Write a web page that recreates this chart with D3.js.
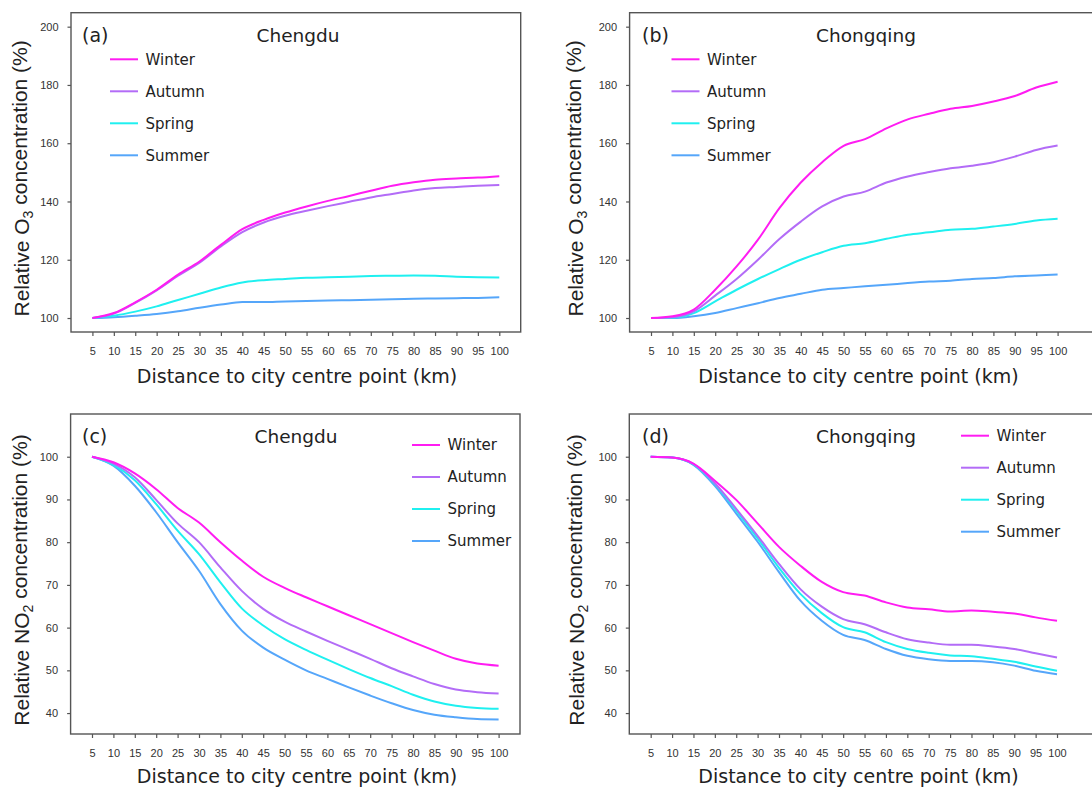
<!DOCTYPE html>
<html>
<head>
<meta charset="utf-8">
<script src="https://cdn.jsdelivr.net/npm/d3@7"></script>
<style>
  html, body { margin: 0; padding: 0; background: #fff; }
  svg { display: block; }
</style>
</head>
<body>
<svg id="chart" width="1092" height="788"></svg>
<script>
// ---------------- DATA ----------------
const distances = [5,10,15,20,25,30,35,40,45,50,55,60,65,70,75,80,85,90,95,100];
const seasons = ["Winter", "Autumn", "Spring", "Summer"];
const seasonColors = ["#ff1cf2", "#b36cf7", "#1ff0f0", "#55a6fa"];

const o3YTicks = [100, 120, 140, 160, 180, 200];
const no2YTicks = [40, 50, 60, 70, 80, 90, 100];

// (a) Chengdu O3
const o3ChengduWinter = [100,101.7,105.4,109.7,114.9,119.4,125.1,130.5,133.7,136.2,138.3,140.2,141.9,143.7,145.4,146.6,147.5,147.9,148.2,148.7];
const o3ChengduAutumn = [100,101.5,105.2,109.5,114.5,119.0,124.6,129.5,132.8,135.1,136.8,138.4,139.9,141.4,142.6,143.8,144.6,145.0,145.4,145.7];
const o3ChengduSpring = [100,100.8,102.2,104.0,106.2,108.3,110.5,112.2,113.0,113.4,113.8,114.0,114.2,114.4,114.5,114.6,114.5,114.2,114.0,113.9];
const o3ChengduSummer = [100,100.3,100.8,101.4,102.3,103.5,104.6,105.5,105.5,105.7,105.8,106.0,106.1,106.3,106.4,106.6,106.7,106.8,106.9,107.1];

// (b) Chongqing O3
const o3ChongqingWinter = [100,100.6,102.9,109.7,117.7,126.9,137.7,146.5,153.5,159.1,161.4,165.1,168.2,170.1,171.8,172.8,174.3,176.2,179.1,181.1];
const o3ChongqingAutumn = [100,100.3,102.3,107.7,113.4,120.0,127.1,133.1,138.3,141.7,143.4,146.5,148.6,150.1,151.4,152.3,153.5,155.4,157.7,159.2];
const o3ChongqingSpring = [100,100.1,101.7,105.7,109.7,113.4,116.8,120.0,122.6,124.8,125.7,127.2,128.6,129.4,130.3,130.6,131.4,132.3,133.5,134.1];
const o3ChongqingSummer = [100,100.0,100.6,101.7,103.4,105.1,106.9,108.3,109.7,110.3,110.9,111.4,112.0,112.5,112.8,113.4,113.7,114.3,114.6,114.9];

// (c) Chengdu NO2
const no2ChengduWinter = [100,98.7,96.1,92.4,88.0,84.6,80.0,75.7,71.9,69.3,67.1,65.0,62.9,60.8,58.7,56.6,54.6,52.7,51.6,51.1];
const no2ChengduAutumn = [100,98.4,95.2,89.9,84.4,80.0,74.1,68.6,64.4,61.4,59.1,56.9,54.8,52.7,50.5,48.6,46.8,45.5,44.9,44.6];
const no2ChengduSpring = [100,98.1,94.5,88.9,82.7,77.2,70.6,64.5,60.5,57.3,54.8,52.5,50.3,48.2,46.3,44.3,42.7,41.7,41.2,41.0];
const no2ChengduSummer = [100,97.9,93.2,87.0,80.0,73.3,65.5,59.3,55.3,52.5,50.0,48.0,46.0,44.1,42.3,40.7,39.6,39.0,38.6,38.5];

// (d) Chongqing NO2
const no2ChongqingWinter = [100,99.8,98.4,94.4,89.9,84.4,78.9,74.5,70.7,68.3,67.5,65.9,64.7,64.3,63.8,64.0,63.7,63.3,62.4,61.6];
const no2ChongqingAutumn = [100,99.8,98.3,93.8,87.8,81.5,74.9,69.0,64.9,62.0,60.8,58.9,57.3,56.5,56.0,56.0,55.6,55.0,54.0,53.0];
const no2ChongqingSpring = [100,99.8,98.2,93.6,87.4,80.9,74.0,67.9,63.4,60.1,58.9,56.6,55.0,54.1,53.5,53.3,52.7,52.0,50.9,49.9];
const no2ChongqingSummer = [100,99.8,98.1,93.2,86.7,80.1,73.0,66.3,61.6,58.3,57.1,55.0,53.4,52.6,52.2,52.2,51.9,51.1,49.9,49.1];

// ---------------- LAYOUT ----------------
const panels = [
  { tag: "(a)", city: "Chengdu", pollutant: "O3",
    series: [o3ChengduWinter, o3ChengduAutumn, o3ChengduSpring, o3ChengduSummer],
    yTicks: o3YTicks, yDomain: [95.2, 204.8],
    left: 71, right: 520.7, top: 12.7, bottom: 332, frameRight: 520.7,
    tagX: 82, titleX: 298, titleY: 42,
    legX: 110, legY: 59.3, legStep: 32,
    yTitleX: 22, xTitleX: 297, xTitleY: 383, tickLabelY: 355 },
  { tag: "(b)", city: "Chongqing", pollutant: "O3",
    series: [o3ChongqingWinter, o3ChongqingAutumn, o3ChongqingSpring, o3ChongqingSummer],
    yTicks: o3YTicks, yDomain: [95.2, 204.8],
    left: 629.6, right: 1079, top: 12.7, bottom: 332, frameRight: 1110,
    tagX: 642, titleX: 866, titleY: 42,
    legX: 671.5, legY: 59.3, legStep: 32,
    yTitleX: 576, xTitleX: 858.5, xTitleY: 383, tickLabelY: 355 },
  { tag: "(c)", city: "Chengdu", pollutant: "NO2",
    series: [no2ChengduWinter, no2ChengduAutumn, no2ChengduSpring, no2ChengduSummer],
    yTicks: no2YTicks, yDomain: [35.1, 110],
    left: 70.6, right: 520, top: 414, bottom: 734, frameRight: 520,
    tagX: 82, titleX: 296, titleY: 443,
    legX: 412, legY: 445, legStep: 32,
    yTitleX: 22, xTitleX: 297, xTitleY: 783, tickLabelY: 757 },
  { tag: "(d)", city: "Chongqing", pollutant: "NO2",
    series: [no2ChongqingWinter, no2ChongqingAutumn, no2ChongqingSpring, no2ChongqingSummer],
    yTicks: no2YTicks, yDomain: [35.1, 110],
    left: 629.3, right: 1078.4, top: 414, bottom: 734, frameRight: 1110,
    tagX: 642, titleX: 866, titleY: 443,
    legX: 961, legY: 435.7, legStep: 32,
    yTitleX: 577, xTitleX: 858.5, xTitleY: 783, tickLabelY: 757 }
];

const svg = d3.select("#chart");
const frameColor = "#555";
const verdana = "'DejaVu Sans', Verdana, sans-serif";
const arial = "'Liberation Sans', Arial, sans-serif";

panels.forEach(p => {
  const g = svg.append("g");
  const x = d3.scaleLinear().domain([0, 105]).range([p.left, p.right]);
  const y = d3.scaleLinear().domain(p.yDomain).range([p.bottom, p.top]);

  // frame
  g.append("rect")
    .attr("x", p.left).attr("y", p.top)
    .attr("width", p.frameRight - p.left).attr("height", p.bottom - p.top)
    .attr("fill", "none").attr("stroke", frameColor).attr("stroke-width", 1.4);

  // x axis
  const xAxis = d3.axisBottom(x).tickValues(distances).tickSize(4).tickFormat(d3.format("d"));
  const xg = g.append("g").attr("transform", `translate(0,${p.bottom})`).call(xAxis);
  xg.select(".domain").remove();
  xg.selectAll(".tick line").attr("stroke", frameColor).attr("stroke-width", 1.2);
  xg.selectAll(".tick text")
    .attr("y", p.tickLabelY - p.bottom).attr("dy", 0)
    .attr("fill", "#333").style("font-family", arial).style("font-size", "11px");

  // y axis
  const yAxis = d3.axisLeft(y).tickValues(p.yTicks).tickSize(3.5).tickPadding(9).tickFormat(d3.format("d"));
  const yg = g.append("g").attr("transform", `translate(${p.left},0)`).call(yAxis);
  yg.select(".domain").remove();
  yg.selectAll(".tick line").attr("stroke", frameColor).attr("stroke-width", 1.2);
  yg.selectAll(".tick text")
    .attr("fill", "#333").style("font-family", arial).style("font-size", "11px");

  // lines (draw summer first so winter on top)
  const line = d3.line()
    .x((d, i) => x(distances[i]))
    .y(d => y(d))
    .curve(d3.curveMonotoneX);
  const order = [3, 2, 1, 0];
  order.forEach(k => {
    g.append("path")
      .datum(p.series[k])
      .attr("d", line)
      .attr("fill", "none")
      .attr("stroke", seasonColors[k])
      .attr("stroke-width", 2)
      .attr("stroke-linejoin", "round");
  });

  // panel tag and city
  g.append("text").attr("x", p.tagX).attr("y", p.titleY)
    .style("font-family", verdana).style("font-size", "19px").attr("fill", "#222")
    .text(p.tag);
  g.append("text").attr("x", p.titleX).attr("y", p.titleY)
    .attr("text-anchor", "middle")
    .style("font-family", verdana).style("font-size", "18.5px").attr("fill", "#222")
    .text(p.city);

  // legend
  seasons.forEach((s, k) => {
    const ly = p.legY + k * p.legStep;
    g.append("line")
      .attr("x1", p.legX).attr("x2", p.legX + 28)
      .attr("y1", ly).attr("y2", ly)
      .attr("stroke", seasonColors[k]).attr("stroke-width", 2);
    g.append("text")
      .attr("x", p.legX + 35.5).attr("y", ly).attr("dy", "0.36em")
      .style("font-family", verdana).style("font-size", "15px").attr("fill", "#222")
      .text(s);
  });

  // x title
  g.append("text").attr("x", p.xTitleX).attr("y", p.xTitleY)
    .attr("text-anchor", "middle")
    .style("font-family", verdana).style("font-size", "19px").attr("fill", "#222")
    .text("Distance to city centre point (km)");

  // y title (rotated)
  const cy = (p.top + p.bottom) / 2 + 6;
  const yt = g.append("text")
    .attr("transform", `translate(${p.yTitleX + 7},${cy}) rotate(-90)`)
    .attr("text-anchor", "middle")
    .style("font-family", arial).style("font-size", "21px").attr("fill", "#222");
  const chem = p.pollutant === "O3" ? ["O", "3"] : ["NO", "2"];
  yt.append("tspan").text("Relative " + chem[0]);
  yt.append("tspan").attr("dy", "0.3em").style("font-size", "14px").text(chem[1]);
  yt.append("tspan").attr("dy", "-0.3em").text(" concentration (%)");
});
</script>
</body>
</html>
